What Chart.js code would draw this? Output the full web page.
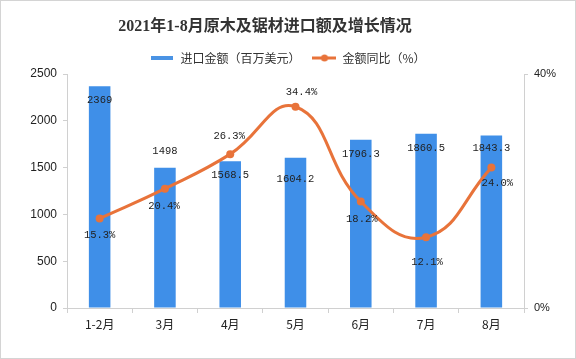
<!DOCTYPE html>
<html><head><meta charset="utf-8">
<script src="https://cdn.jsdelivr.net/npm/chart.js@4/dist/chart.umd.min.js"></script>
<style>html,body{margin:0;padding:0;background:#fff;}#wrap{width:576px;height:359px;}</style>
</head><body><div id="wrap"><canvas id="c" width="576" height="359"></canvas></div>
<script>
const titleText = '2021年1-8月原木及锯材进口额及增长情况';
const categories = ['1-2月','3月','4月','5月','6月','7月','8月'];
const importValues = [2369, 1498, 1568.5, 1604.2, 1796.3, 1860.5, 1843.3];
const yoyValues = [15.3, 20.4, 26.3, 34.4, 18.2, 12.1, 24.0];
const leftTicks = [0, 500, 1000, 1500, 2000, 2500];
const rightTicks = [0, 40];

// label offsets (style only)
const barLabelDy = [14, -17, 14, 21, 14, 14, 13];
const lineLabelOff = [[0,17],[-1,18],[-1,-18],[6,-15],[1,18],[1,25],[6,16]];

function mkIcon(type){
  const c = document.createElement('canvas');
  if(type==='bar'){c.width=22;c.height=4;const x=c.getContext('2d');x.fillStyle='#4a93e4';x.fillRect(0,0,22,4);}
  else{c.width=24;c.height=8;const x=c.getContext('2d');x.strokeStyle='#e8733a';x.lineWidth=3;x.beginPath();x.moveTo(0,4);x.lineTo(24,4);x.stroke();x.fillStyle='#e8733a';x.beginPath();x.arc(12,4,3.5,0,Math.PI*2);x.fill();}
  return c;
}
const barIcon = mkIcon('bar'), lineIcon = mkIcon('line');

const frame = {
  id:'frame',
  beforeDraw(chart){const ctx=chart.ctx;ctx.save();ctx.fillStyle='#fff';ctx.fillRect(0,0,chart.width,chart.height);ctx.strokeStyle='#d4d4d4';ctx.lineWidth=1;ctx.strokeRect(0.5,0.5,chart.width-1,chart.height-1);
    ctx.fillStyle='#333';ctx.font='bold 16px "Liberation Serif","Noto Sans CJK SC",serif';ctx.textAlign='center';ctx.textBaseline='middle';ctx.fillText(titleText,265,27);
    ctx.restore();}
};
const labels = {
  id:'labels',
  afterDatasetsDraw(chart){
    const ctx=chart.ctx;ctx.save();
    ctx.font='10.5px "Liberation Mono", "DejaVu Sans Mono", monospace';
    ctx.fillStyle='#222';ctx.textAlign='center';ctx.textBaseline='middle';
    const mb=chart.getDatasetMeta(0);
    mb.data.forEach((el,i)=>{ctx.fillText(String(importValues[i]),el.x,el.y+barLabelDy[i]);});
    const ml=chart.getDatasetMeta(1);
    ml.data.forEach((el,i)=>{ctx.fillText(yoyValues[i].toFixed(1)+'%',el.x+lineLabelOff[i][0],el.y+lineLabelOff[i][1]);});
    ctx.restore();
  }
};

new Chart(document.getElementById('c'),{
  data:{
    labels:categories,
    datasets:[
      {type:'bar',label:'进口金额（百万美元）',data:importValues,backgroundColor:'#3f8fe8',yAxisID:'y',order:2,barPercentage:0.33,categoryPercentage:1},
      {type:'line',label:'金额同比（%）',data:yoyValues,borderColor:'#e8733a',backgroundColor:'#e8733a',borderWidth:3,pointRadius:4,pointBackgroundColor:'#e8733a',pointBorderWidth:0,tension:0.45,cubicInterpolationMode:'default',yAxisID:'y1',order:1}
    ]
  },
  options:{
    responsive:false,animation:false,
    layout:{padding:{top:40,left:0,right:0,bottom:0}},
    plugins:{
      title:{display:false},
      legend:{display:true,labels:{color:'#333',font:{family:'"Noto Sans CJK SC",sans-serif',size:12},padding:12,usePointStyle:true,pointStyleWidth:24,
        generateLabels(chart){return chart.data.datasets.map((d,i)=>({text:d.label,pointStyle:i===0?barIcon:lineIcon,datasetIndex:i,fillStyle:d.backgroundColor,strokeStyle:d.backgroundColor,lineWidth:0,hidden:false,fontColor:'#333'}));}}},
      tooltip:{enabled:false}
    },
    scales:{
      x:{grid:{display:true,drawOnChartArea:false,offset:true,tickLength:5,color:'#d0d0d0'},border:{color:'#d0d0d0'},
         ticks:{color:'#222',font:{family:'"Noto Sans CJK SC",sans-serif',size:12},padding:4},
         afterFit(s){s.height=51;}},
      y:{position:'left',min:0,max:2500,grid:{display:true,drawOnChartArea:false,tickLength:4,color:'#d0d0d0'},border:{color:'#d0d0d0'},
         afterBuildTicks(s){s.ticks=leftTicks.map(v=>({value:v}));},
         ticks:{color:'#222',font:{family:'"Liberation Sans",Arial,sans-serif',size:12},padding:6,callback:v=>String(v)},
         afterFit(s){s.width=67;}},
      y1:{position:'right',min:0,max:40,grid:{display:true,drawOnChartArea:false,tickLength:4,color:'#d0d0d0'},border:{color:'#d0d0d0'},
         afterBuildTicks(s){s.ticks=rightTicks.map(v=>({value:v}));},
         ticks:{color:'#222',font:{family:'"Liberation Sans",Arial,sans-serif',size:11},padding:6,callback:v=>v+'%'},
         afterFit(s){s.width=52;}}
    }
  },
  plugins:[frame,labels]
});
</script></body></html>
